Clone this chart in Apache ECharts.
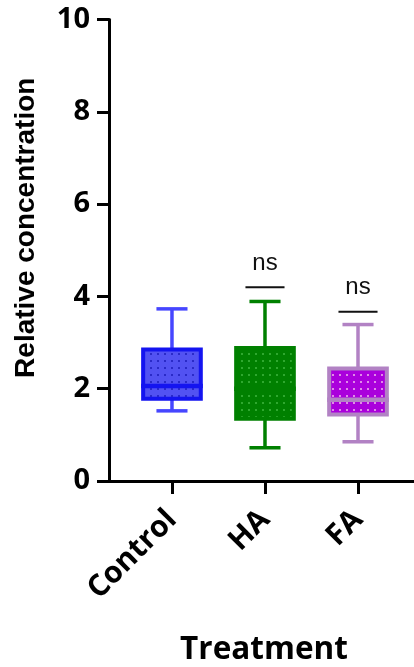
<!DOCTYPE html>
<html>
<head>
<meta charset="utf-8">
<script src="https://cdn.jsdelivr.net/npm/echarts@6/dist/echarts.min.js"></script>
<style>
  html, body { margin: 0; padding: 0; background: #fff; }
  #main { width: 414px; height: 667px; }
</style>
</head>
<body>
<div id="main"></div>
<script>
// box plot data
var categories = ['Control', 'HA', 'FA'];
var whiskerLow = [1.52, 0.72, 0.85];
var q1 = [1.78, 1.35, 1.44];
var median = [2.06, 2.0, 1.76];
var q3 = [2.85, 2.88, 2.44];
var whiskerHigh = [3.73, 3.89, 3.39];

// significance marks above the groups
var sigIndex = [1, 2];
var sigHeight = [4.2, 3.67];
var sigText = ['ns', 'ns'];

// colours per group
var fillColors = ['#5252f2', '#008000', '#aa00dc'];
var dotColors = ['#2a2ac8', '#2fa82f', '#e08ae8'];
var borderColors = ['#1414f0', '#008000', '#b282c4'];
var whiskerColors = ['#4646ff', '#008000', '#b282c4'];

function makePattern(fill, dot) {
    var c = document.createElement('canvas');
    c.width = 7;
    c.height = 7;
    var ctx = c.getContext('2d');
    ctx.fillStyle = fill;
    ctx.fillRect(0, 0, 7, 7);
    ctx.fillStyle = dot;
    ctx.fillRect(3, 3, 2, 2);
    return { image: c, repeat: 'repeat' };
}
var patterns = fillColors.map(function (f, i) { return makePattern(f, dotColors[i]); });

var boxData = categories.map(function (c, i) {
    return [i, whiskerLow[i], q1[i], median[i], q3[i], whiskerHigh[i]];
});
var sigData = sigIndex.map(function (idx, i) {
    return [idx, sigHeight[i], sigText[i]];
});

var font = 'Open Sans';

var myChart = echarts.init(document.getElementById('main'));

var option = {
    animation: false,
    grid: { left: 109, right: 0, top: 19.5, bottom: 186, containLabel: false, outerBoundsMode: 'none' },
    xAxis: {
        type: 'value',
        min: -0.677,
        max: 2.602,
        splitLine: { show: false },
        axisLine: { show: true, lineStyle: { color: '#000', width: 3 } },
        axisTick: { show: true, customValues: [0, 1, 2], length: 13, lineStyle: { color: '#000', width: 3 } },
        axisLabel: {
            customValues: [0, 1, 2],
            formatter: function (v) { return categories[Math.round(v)]; },
            rotate: 45,
            margin: 34,
            fontSize: 30,
            fontWeight: 'bold',
            fontFamily: font,
            color: '#000'
        },
        name: 'Treatment',
        nameLocation: 'middle',
        nameGap: 153,
        nameTextStyle: { fontSize: 31.5, fontWeight: 'bold', fontFamily: font, color: '#000', padding: [0, 0, 0, 5] }
    },
    yAxis: {
        type: 'value',
        min: 0,
        max: 10,
        interval: 2,
        splitLine: { show: false },
        axisLine: { show: true, onZero: false, lineStyle: { color: '#000', width: 3 } },
        axisTick: { show: true, length: 12, lineStyle: { color: '#000', width: 3 } },
        axisLabel: { margin: 19, fontSize: 29, fontWeight: 'bold', fontFamily: font, color: '#000' },
        name: 'Relative concentration',
        nameLocation: 'middle',
        nameGap: 69,
        nameTextStyle: { fontSize: 28, fontWeight: 'bold', fontFamily: 'Liberation Sans', color: '#000', padding: [0, 0, 0, 45] }
    },
    series: [
        {
            type: 'custom',
            data: boxData,
            renderItem: function (params, api) {
                var i = params.dataIndex;
                var x = api.value(0);
                var unit = api.size([1, 0])[0];
                var half = unit * 0.31;
                var cap = unit * 0.167;
                var pMin = api.coord([x, api.value(1)]);
                var pQ1 = api.coord([x, api.value(2)]);
                var pMed = api.coord([x, api.value(3)]);
                var pQ3 = api.coord([x, api.value(4)]);
                var pMax = api.coord([x, api.value(5)]);
                var wStyle = { stroke: whiskerColors[i], lineWidth: 3.5 };
                return {
                    type: 'group',
                    children: [
                        { type: 'line', shape: { x1: pMax[0], y1: pMax[1], x2: pQ3[0], y2: pQ3[1] }, style: wStyle },
                        { type: 'line', shape: { x1: pMin[0], y1: pMin[1], x2: pQ1[0], y2: pQ1[1] }, style: wStyle },
                        { type: 'line', shape: { x1: pMax[0] - cap, y1: pMax[1], x2: pMax[0] + cap, y2: pMax[1] }, style: wStyle },
                        { type: 'line', shape: { x1: pMin[0] - cap, y1: pMin[1], x2: pMin[0] + cap, y2: pMin[1] }, style: wStyle },
                        {
                            type: 'rect',
                            shape: { x: pQ3[0] - half, y: pQ3[1], width: half * 2, height: pQ1[1] - pQ3[1] },
                            style: { fill: patterns[i], stroke: borderColors[i], lineWidth: 4 }
                        },
                        {
                            type: 'line',
                            shape: { x1: pMed[0] - half - 2, y1: pMed[1], x2: pMed[0] + half + 2, y2: pMed[1] },
                            style: { stroke: borderColors[i], lineWidth: 4.5 }
                        }
                    ]
                };
            }
        },
        {
            type: 'custom',
            data: sigData,
            renderItem: function (params, api) {
                var x = api.value(0);
                var p = api.coord([x, api.value(1)]);
                var unit = api.size([1, 0])[0];
                var hw = unit * 0.21;
                return {
                    type: 'group',
                    children: [
                        { type: 'line', shape: { x1: p[0] - hw, y1: p[1], x2: p[0] + hw, y2: p[1] }, style: { stroke: '#111', lineWidth: 2 } },
                        {
                            type: 'text',
                            x: p[0],
                            y: p[1] - 12,
                            style: {
                                text: sigText[params.dataIndex],
                                fontSize: 24,
                                fontFamily: 'Liberation Sans',
                                fill: '#111',
                                align: 'center',
                                verticalAlign: 'bottom'
                            }
                        }
                    ]
                };
            }
        }
    ]
};

myChart.setOption(option);
</script>
</body>
</html>
